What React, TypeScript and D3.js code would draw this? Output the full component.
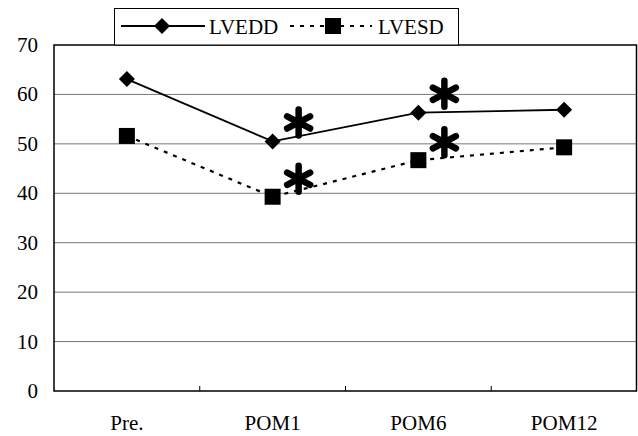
import React from 'react';
import * as d3 from 'd3';

const categories = ['Pre.', 'POM1', 'POM6', 'POM12'];
const lvedd = [63.1, 50.5, 56.3, 56.9];
const lvesd = [51.6, 39.3, 46.7, 49.3];
const yTicks = [0, 10, 20, 30, 40, 50, 60, 70];
// asterisks mark significant points: index of category
const sigIdx = [1, 2];

const W = 638;
const H = 436;
const margin = { top: 45, right: 1, bottom: 45, left: 54 };
const font = '"Liberation Serif", "Times New Roman", serif';

export default function App() {
  const x = d3.scaleBand<string>().domain(categories).range([margin.left, W - margin.right]);
  const y = d3.scaleLinear().domain([0, 70]).range([H - margin.bottom, margin.top]);
  const cx = (c: string) => (x(c) ?? 0) + x.bandwidth() / 2;

  const line = d3.line<number>()
    .x((_, i) => cx(categories[i]))
    .y(d => y(d));

  const diamond = (px: number, py: number, r: number) =>
    `M${px},${py - r}L${px + r},${py}L${px},${py + r}L${px - r},${py}Z`;

  // six-armed asterisk drawn as a path
  const star = (px: number, py: number) => {
    const r = 13;
    const d = [90, 28, 152].map(a => {
      const rad = (a * Math.PI) / 180;
      const dx = r * Math.cos(rad), dy = r * Math.sin(rad);
      return `M${px - dx},${py - dy}L${px + dx},${py + dy}`;
    }).join('');
    return <path d={d} stroke="#000" strokeWidth={6.5} strokeLinecap="round" fill="none" />;
  };

  return (
    <svg width={W} height={H} style={{ position: 'absolute', left: 0, top: 0 }}>
      <rect width={W} height={H} fill="#fff" />
      {/* gridlines */}
      {yTicks.filter(t => t > 0 && t < 70).map(t => (
        <line key={t} x1={margin.left} x2={W - margin.right} y1={y(t)} y2={y(t)}
          stroke="#777" strokeWidth={1} />
      ))}
      {/* frame */}
      <rect x={margin.left} y={margin.top} width={W - margin.left - margin.right - 0.5}
        height={H - margin.top - margin.bottom} fill="none" stroke="#000" strokeWidth={1.5} />
      {/* category dividers */}
      {categories.slice(1).map(c => (
        <line key={c} x1={x(c)} x2={x(c)} y1={y(0)} y2={y(0) - 5} stroke="#000" strokeWidth={1} />
      ))}
      {/* y tick labels */}
      {yTicks.map(t => (
        <text key={t} x={38} y={y(t)} fontFamily={font} fontSize={21} textAnchor="end"
          dominantBaseline="central" fill="#000">{t}</text>
      ))}
      {/* x labels */}
      {categories.map(c => (
        <text key={c} x={cx(c)} y={423} fontFamily={font} fontSize={21} textAnchor="middle"
          dominantBaseline="central" fill="#000">{c}</text>
      ))}
      {/* series */}
      <path d={line(lvedd) ?? ''} fill="none" stroke="#000" strokeWidth={1.8} />
      <path d={line(lvesd) ?? ''} fill="none" stroke="#000" strokeWidth={2.2} strokeDasharray="4,6" />
      {lvedd.map((v, i) => (
        <path key={i} d={diamond(cx(categories[i]), y(v), 8)} fill="#000" />
      ))}
      {lvesd.map((v, i) => (
        <rect key={i} x={cx(categories[i]) - 8} y={y(v) - 8} width={16} height={16} fill="#000" />
      ))}
      {/* significance asterisks */}
      {sigIdx.map(i => (
        <g key={i}>
          {star(cx(categories[i]) + 26, y(lvedd[i]) - 19)}
          {star(cx(categories[i]) + 26, y(lvesd[i]) - 18)}
        </g>
      ))}
      {/* legend */}
      <rect x={114.5} y={8.5} width={344} height={36.5} fill="#fff" stroke="#000" strokeWidth={1} />
      <line x1={121} x2={205} y1={26} y2={26} stroke="#000" strokeWidth={1.8} />
      <path d={diamond(162, 26, 8)} fill="#000" />
      <text x={209} y={27} fontFamily={font} fontSize={21} dominantBaseline="central">LVEDD</text>
      <line x1={290} x2={372} y1={26} y2={26} stroke="#000" strokeWidth={2.2} strokeDasharray="4,6" />
      <rect x={325} y={18} width={16} height={16} fill="#000" />
      <text x={378} y={27} fontFamily={font} fontSize={21} dominantBaseline="central">LVESD</text>
    </svg>
  );
}
